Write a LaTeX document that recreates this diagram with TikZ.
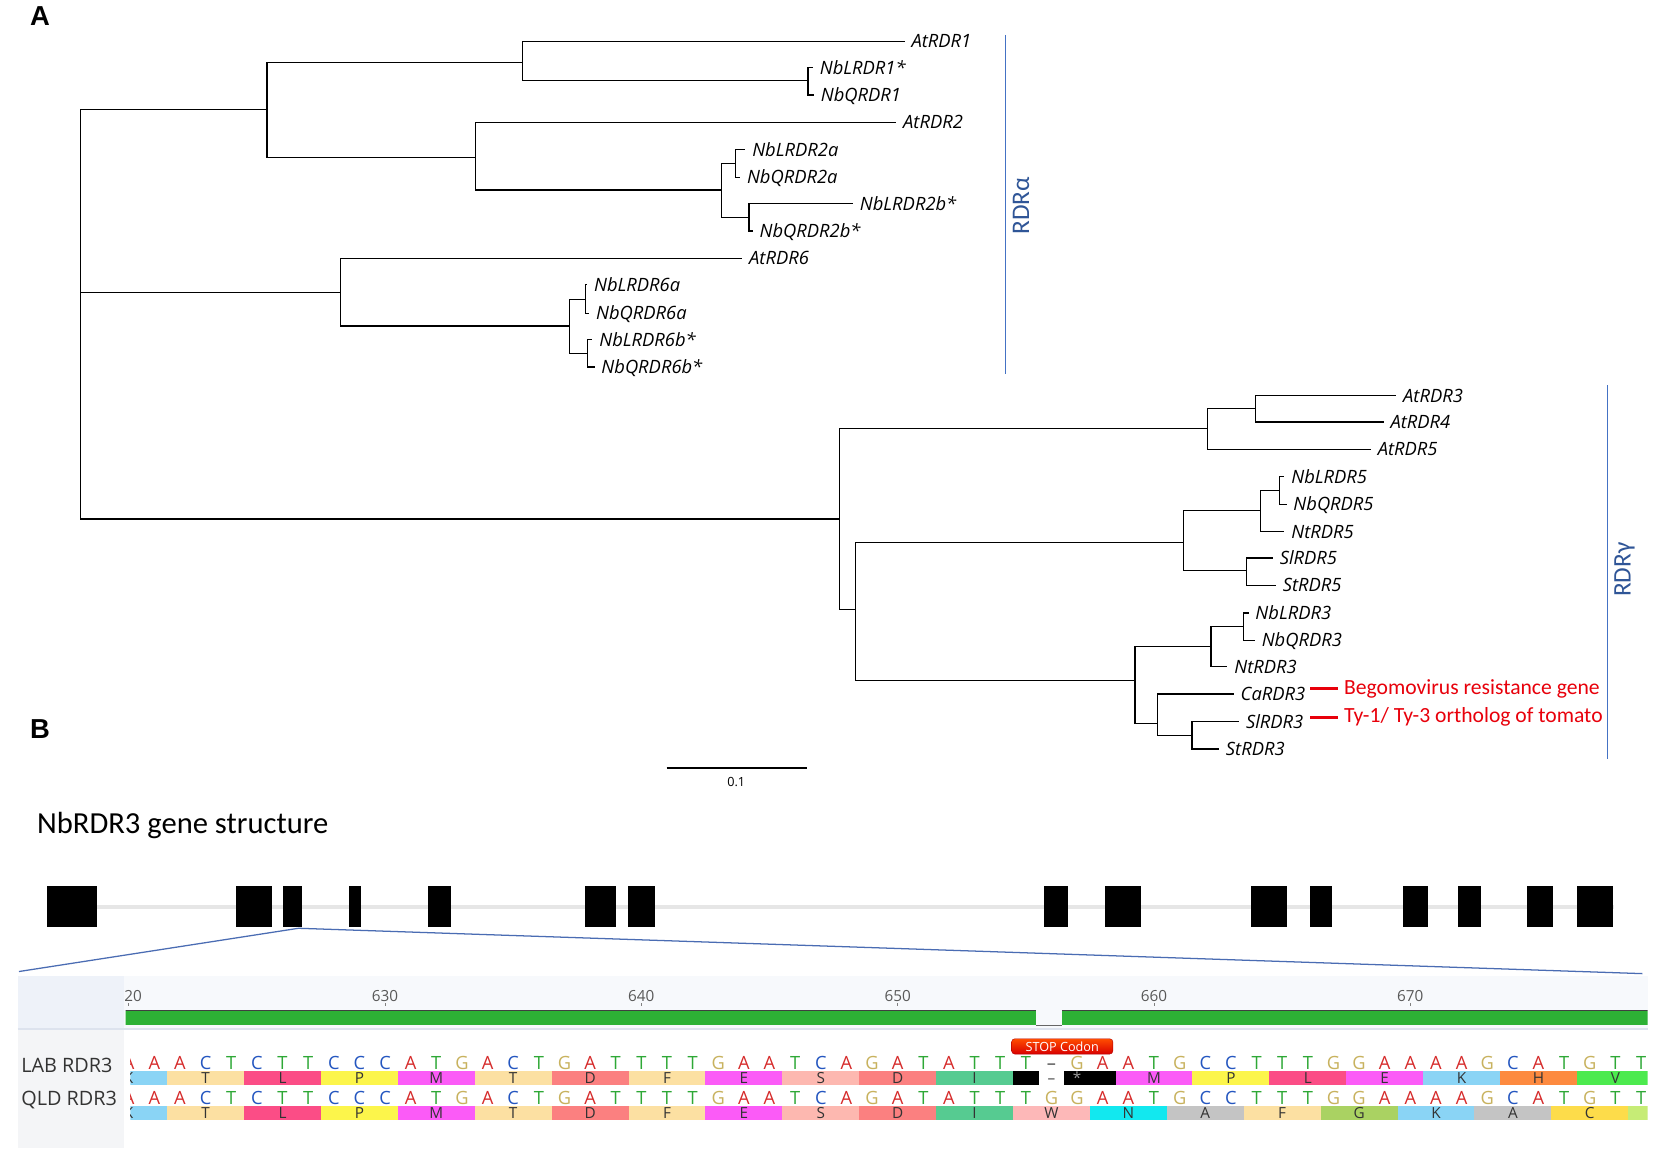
\documentclass[tikz,border=0pt]{standalone}
\usepackage{fontspec}
\setmainfont{Carlito}
\newfontfamily\treefont{Open Sans}
\newfontfamily\panelfont{Liberation Sans}
\usetikzlibrary{calc,shadings}

\definecolor{bluebar}{HTML}{4472C4}
\definecolor{bluetext}{HTML}{2F5597}
\definecolor{zoomblue}{HTML}{4A6CB3}
\definecolor{redtag}{HTML}{E8000B}
\definecolor{intron}{HTML}{E6E6E6}
\definecolor{rulerbg}{HTML}{F7F9FC}
\definecolor{cornerbg}{HTML}{EEF2F9}
\definecolor{namebg}{HTML}{F4F5F7}
\definecolor{sepline}{HTML}{DDE3EE}
\definecolor{cons}{HTML}{2DB135}
\definecolor{ntA}{HTML}{D62B2B}
\definecolor{ntC}{HTML}{2456C0}
\definecolor{ntG}{HTML}{C8B25E}
\definecolor{ntT}{HTML}{2EA836}
\definecolor{aaK}{HTML}{8AD4F5}
\definecolor{aaT}{HTML}{FCE0A2}
\definecolor{aaF}{HTML}{FCE0A2}
\definecolor{aaL}{HTML}{FB4D86}
\definecolor{aaP}{HTML}{FCF54B}
\definecolor{aaM}{HTML}{FB5BF7}
\definecolor{aaE}{HTML}{FB5BF7}
\definecolor{aaD}{HTML}{FB8080}
\definecolor{aaS}{HTML}{FDB8B0}
\definecolor{aaW}{HTML}{FDB8B8}
\definecolor{aaI}{HTML}{56CB91}
\definecolor{aaN}{HTML}{12E8EF}
\definecolor{aaA}{HTML}{C4C4C4}
\definecolor{aaG}{HTML}{AAD262}
\definecolor{aaH}{HTML}{FD8A3F}
\definecolor{aaV}{HTML}{4CEA4E}
\definecolor{aaC}{HTML}{FDDC4A}
\definecolor{aaY}{HTML}{C6EC76}

\begin{document}
\begin{tikzpicture}[x=1pt,y=-1pt,
	branch/.style={line width=1.2pt, line cap=rect},
	leaf/.style={anchor=west, inner sep=0pt, text height=12.4pt, text depth=0pt, font=\treefont\itshape\fontsize{17.4}{19}\selectfont},
	cladebar/.style={draw=bluebar, line width=1.4pt},
	cladename/.style={text=bluetext, rotate=90, inner sep=0pt, font=\fontsize{24}{26}\selectfont},
	tagline/.style={draw=redtag, line width=2.6pt},
	tagtext/.style={text=redtag, anchor=west, inner sep=0pt, font=\fontsize{20.5}{22}\selectfont},
	panel/.style={inner sep=0pt, font=\panelfont\bfseries\fontsize{26}{28}\selectfont},
	exon/.style={fill=black},
	nt/.style={inner sep=0pt, text height=12.4pt, text depth=0pt, font=\treefont\fontsize{17.3}{17}\selectfont},
	aa/.style={inner sep=0pt, text height=10.2pt, text depth=0pt, text=black!80, font=\treefont\fontsize{14.5}{15}\selectfont},
	rowname/.style={anchor=west, inner sep=0pt, text=black!80, font=\treefont\fontsize{18.8}{20}\selectfont},
	ruler/.style={inner sep=0pt, text=black!65, font=\treefont\fontsize{14.5}{15}\selectfont},
	]
			%%%%% START %%%%%
			\useasboundingbox[fill=white] (0,0) rectangle (1568,1094);
			
			\node[panel] (A) at (38,15) {A};
			\node[panel] (B) at (38,691) {B};
			
			%%%%% TREE %%%%%
			\node[leaf] (AtRDR1) at (864,39) {AtRDR1};
			\node[leaf] (NbLRDR1) at (777,64) {NbLRDR1*};
			\node[leaf] (NbQRDR1) at (778,90) {NbQRDR1};
			\node[leaf] (AtRDR2) at (856,116) {AtRDR2};
			\node[leaf] (NbLRDR2a) at (713,142) {NbLRDR2a};
			\node[leaf] (NbQRDR2a) at (708,168) {NbQRDR2a};
			\node[leaf] (NbLRDR2b) at (815,193) {NbLRDR2b*};
			\node[leaf] (NbQRDR2b) at (720,219) {NbQRDR2b*};
			\node[leaf] (AtRDR6) at (710,245) {AtRDR6};
			\node[leaf] (NbLRDR6a) at (563,270) {NbLRDR6a};
			\node[leaf] (NbQRDR6a) at (565,297) {NbQRDR6a};
			\node[leaf] (NbLRDR6b) at (568,322) {NbLRDR6b*};
			\node[leaf] (NbQRDR6b) at (570,348) {NbQRDR6b*};
			\node[leaf] (AtRDR3) at (1330,375) {AtRDR3};
			\node[leaf] (AtRDR4) at (1318,400) {AtRDR4};
			\node[leaf] (AtRDR5) at (1306,426) {AtRDR5};
			\node[leaf] (NbLRDR5) at (1224,452) {NbLRDR5};
			\node[leaf] (NbQRDR5) at (1226,478) {NbQRDR5};
			\node[leaf] (NtRDR5) at (1224,504) {NtRDR5};
			\node[leaf] (SlRDR5) at (1213,529) {SlRDR5};
			\node[leaf] (StRDR5) at (1216,555) {StRDR5};
			\node[leaf] (NbLRDR3) at (1190,581) {NbLRDR3};
			\node[leaf] (NbQRDR3) at (1196,607) {NbQRDR3};
			\node[leaf] (NtRDR3) at (1170,632) {NtRDR3};
			\node[leaf] (CaRDR3) at (1176,658) {CaRDR3};
			\node[leaf] (SlRDR3) at (1181,684) {SlRDR3};
			\node[leaf] (StRDR3) at (1162,710) {StRDR3};
			
			\foreach \l in {AtRDR1,NbLRDR1,NbQRDR1,AtRDR2,NbLRDR2a,NbQRDR2a,NbLRDR2b,NbQRDR2b,AtRDR6,NbLRDR6a,NbQRDR6a,NbLRDR6b,NbQRDR6b,AtRDR3,AtRDR4,AtRDR5,NbLRDR5,NbQRDR5,NtRDR5,SlRDR5,StRDR5,NbLRDR3,NbQRDR3,NtRDR3,CaRDR3,SlRDR3,StRDR3}
				\coordinate (\l-tip) at ([xshift=-7pt]\l.west);
			
			\coordinate (root) at (76,104);
			\coordinate (cA) at (253,104);
			\coordinate (c1) at (495,59);
			\coordinate (c1b) at (766,76);
			\coordinate (c2) at (451,149);
			\coordinate (c2b) at (684,180);
			\coordinate (c2c) at (697,155);
			\coordinate (c2d) at (710,206);
			\coordinate (c6) at (323,277);
			\coordinate (c6b) at (540,309);
			\coordinate (c6c) at (555,284);
			\coordinate (c6d) at (557,335);
			\coordinate (cG) at (796,492);
			\coordinate (cG1) at (1145,406);
			\coordinate (cG1a) at (1190,387);
			\coordinate (cG2) at (811,578);
			\coordinate (c5) at (1122,514);
			\coordinate (c5a) at (1195,484);
			\coordinate (c5c) at (1213,465);
			\coordinate (c5b) at (1182,541);
			\coordinate (c3) at (1076,645);
			\coordinate (c3a) at (1148,613);
			\coordinate (c3d) at (1179,594);
			\coordinate (c3b) at (1097,686);
			\coordinate (c3c) at (1130,697);
			
			\draw[branch] (root) |- (cA);
			\draw[branch] (root) |- (c6);
			\draw[branch] (root) |- (cG);
			\draw[branch] (cA) |- (c1);
			\draw[branch] (cA) |- (c2);
			\draw[branch] (c1) |- (AtRDR1-tip);
			\draw[branch] (c1) |- (c1b);
			\draw[branch] (c1b) |- (NbLRDR1-tip);
			\draw[branch] (c1b) |- (NbQRDR1-tip);
			\draw[branch] (c2) |- (AtRDR2-tip);
			\draw[branch] (c2) |- (c2b);
			\draw[branch] (c2b) |- (c2c);
			\draw[branch] (c2b) |- (c2d);
			\draw[branch] (c2c) |- (NbLRDR2a-tip);
			\draw[branch] (c2c) |- (NbQRDR2a-tip);
			\draw[branch] (c2d) |- (NbLRDR2b-tip);
			\draw[branch] (c2d) |- (NbQRDR2b-tip);
			\draw[branch] (c6) |- (AtRDR6-tip);
			\draw[branch] (c6) |- (c6b);
			\draw[branch] (c6b) |- (c6c);
			\draw[branch] (c6b) |- (c6d);
			\draw[branch] (c6c) |- (NbLRDR6a-tip);
			\draw[branch] (c6c) |- (NbQRDR6a-tip);
			\draw[branch] (c6d) |- (NbLRDR6b-tip);
			\draw[branch] (c6d) |- (NbQRDR6b-tip);
			\draw[branch] (cG) |- (cG1);
			\draw[branch] (cG) |- (cG2);
			\draw[branch] (cG1) |- (cG1a);
			\draw[branch] (cG1) |- (AtRDR5-tip);
			\draw[branch] (cG1a) |- (AtRDR3-tip);
			\draw[branch] (cG1a) |- (AtRDR4-tip);
			\draw[branch] (cG2) |- (c5);
			\draw[branch] (cG2) |- (c3);
			\draw[branch] (c5) |- (c5a);
			\draw[branch] (c5) |- (c5b);
			\draw[branch] (c5a) |- (c5c);
			\draw[branch] (c5a) |- (NtRDR5-tip);
			\draw[branch] (c5c) |- (NbLRDR5-tip);
			\draw[branch] (c5c) |- (NbQRDR5-tip);
			\draw[branch] (c5b) |- (SlRDR5-tip);
			\draw[branch] (c5b) |- (StRDR5-tip);
			\draw[branch] (c3) |- (c3a);
			\draw[branch] (c3) |- (c3b);
			\draw[branch] (c3a) |- (c3d);
			\draw[branch] (c3a) |- (NtRDR3-tip);
			\draw[branch] (c3d) |- (NbLRDR3-tip);
			\draw[branch] (c3d) |- (NbQRDR3-tip);
			\draw[branch] (c3b) |- (CaRDR3-tip);
			\draw[branch] (c3b) |- (c3c);
			\draw[branch] (c3c) |- (SlRDR3-tip);
			\draw[branch] (c3c) |- (StRDR3-tip);
			
			% scale bar
			\coordinate (sbl) at (632,728);
			\coordinate (sbr) at (765,728);
			\draw[line width=1.1pt] (sbl) -- (sbr);
			\node[inner sep=0pt, font=\treefont\fontsize{12}{13}\selectfont] (sbtext) at (698,741) {0.1};
			
			% clades
			\coordinate (alphatop) at (953,33);
			\coordinate (alphabot) at (953,355);
			\draw[cladebar] (alphatop) -- (alphabot);
			\node[cladename] (alpha) at (968,195) {RDRα};
			\coordinate (gammatop) at (1524,365);
			\coordinate (gammabot) at (1524,720);
			\draw[cladebar] (gammatop) -- (gammabot);
			\node[cladename] (gamma) at (1540,540) {RDRγ};
			
			% red tags
			\node[tagtext] (bego) at (1274,653) {Begomovirus resistance gene};
			\node[tagtext] (tyorth) at (1274,680) {Ty-1/ Ty-3 ortholog of tomato};
			\draw[tagline] ([xshift=-32pt]bego.west) -- ([xshift=-6pt]bego.west);
			\draw[tagline] ([xshift=-32pt]tyorth.west) -- ([xshift=-6pt]tyorth.west);
			
			%%%%% GENE STRUCTURE %%%%%
			\node[anchor=west, inner sep=0pt, font=\fontsize{29}{31}\selectfont] (title) at (35,783) {NbRDR3 gene structure};
			
			\draw[intron, line width=4pt] (45,860) -- (1530,860);
			\foreach \a/\b in {45/92,224/258,268/286,331/342,406/428,555/584,595/621,990/1012,1048/1082,1186/1220,1242/1263,1330/1354,1382/1404,1448/1472,1495/1529}
				\fill[exon] (\a,840) rectangle (\b,879);
			
			\coordinate (zoomL) at (18,921);
			\coordinate (zoomT) at (283,880);
			\coordinate (zoomR) at (1557,923);
			\draw[zoomblue, line width=1.2pt] (zoomL) -- (zoomT) -- (zoomR);
			
			%%%%% ALIGNMENT %%%%%
			\fill[rulerbg] (118,925) rectangle (1562,975);
			\fill[cornerbg] (17,925) rectangle (118,975);
			\fill[namebg] (17,975) rectangle (118,1088);
			\draw[sepline, line width=1pt] (17,975.5) -- (1562,975.5);
			
			\node[rowname] (lab) at (20,1010) {LAB RDR3};
			\node[rowname] (qld) at (20,1043) {QLD RDR3};
			
			\begin{scope}
				\clip (119,925) rectangle (1562,975);
				\foreach \p [count=\k from 0] in {620,630,640,650,660,670} {
					\node[ruler] (pos\p) at ({122+243*\k},944) {\p};
					\draw[black!50, line width=0.8pt] ({122+243*\k},951) -- ++(0,3);
				}
				\fill[cons] (118,958) rectangle (982,972);
				\fill[cons] (1007,958) rectangle (1562,972);
				\draw[black!75, line width=1pt] (118,958) -- (982,958) (1007,958) -- (1562,958);
				\draw[black!60, line width=1pt] (982,972) -- (1007,972);
			\end{scope}
			
			\begin{scope}
				\clip (123.5,980) rectangle (1562,1088);
				
				% nucleotides (col 36 is the gap in LAB)
				\foreach \n [count=\i from 0] in {A,A,A,C,T,C,T,T,C,C,C,A,T,G,A,C,T,G,A,T,T,T,T,G,A,A,T,C,A,G,A,T,A,T,T,T,G,G,A,A,T,G,C,C,T,T,T,G,G,A,A,A,A,G,C,A,T,G,T,T} {
					\ifnum\i=36 \else
						\node[nt, text=nt\n] at ({122+24.3*\i},1007.5) {\n};
					\fi
					\node[nt, text=nt\n] at ({122+24.3*\i},1041) {\n};
				}
				\node[nt, text=black!70] (gapnt) at ({122+24.3*36},1007.5) {–};
				
				% LAB amino acids
				\foreach \c/\a in {0/K,3/T,6/L,9/P,12/M,15/T,18/D,21/F,24/E,27/S,30/D,33/I,40/M,43/P,46/L,49/E,52/K,55/H,58/V} {
					\fill[aa\a] ({122+24.3*(\c-1.5)},1015.5) rectangle ({122+24.3*(\c+1.5)},1028.5);
					\node[aa] at ({122+24.3*\c},1022) {\a};
				}
				\fill[black] ({122+24.3*34.5},1015.5) rectangle ({122+24.3*35.5},1028.5);
				\fill[black] ({122+24.3*36.5},1015.5) rectangle ({122+24.3*38.5},1028.5);
				\node[aa, text=black!70] (gapaa) at ({122+24.3*36},1022) {–};
				\node[aa, text=black!40] (stopaa) at ({122+24.3*37},1022) {*};
				
				% QLD amino acids
				\foreach \c/\a in {0/K,3/T,6/L,9/P,12/M,15/T,18/D,21/F,24/E,27/S,30/D,33/I,36/W,39/N,42/A,45/F,48/G,51/K,54/A,57/C} {
					\fill[aa\a] ({122+24.3*(\c-1.5)},1048.5) rectangle ({122+24.3*(\c+1.5)},1061.5);
					\node[aa] at ({122+24.3*\c},1055) {\a};
				}
				\fill[aaY] ({122+24.3*58.5},1048.5) rectangle (1562,1061.5);
			\end{scope}
			
			\node[draw=red!70!black, rounded corners=3pt, top color=orange!60!red, bottom color=red!85!black, text=white, inner sep=0pt, minimum width=96pt, minimum height=14.5pt, font=\treefont\fontsize{12}{12}\selectfont] (stop) at (1007,992) {STOP Codon};
			
			%%%%% END %%%%%
\end{tikzpicture}
\end{document}
